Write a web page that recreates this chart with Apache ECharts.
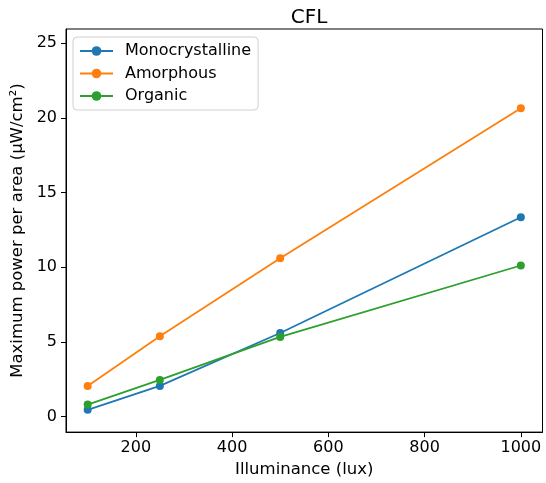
<!DOCTYPE html>
<html>
<head>
<meta charset="utf-8">
<style>
  html, body { margin: 0; padding: 0; background: #fff; }
  #chart { width: 546px; height: 483px; }
</style>
<script src="https://cdn.jsdelivr.net/npm/echarts@6/dist/echarts.min.js"></script>
</head>
<body>
<div id="chart"></div>
<script>
// Illuminance levels (lux) under a CFL lamp
const illuminance = [100, 250, 500, 1000];

// Maximum power per area (µW/cm²) for each cell type
const monocrystalline = [0.46, 2.06, 5.6, 13.35];
const amorphous = [2.06, 5.38, 10.6, 20.65];
const organic = [0.81, 2.46, 5.34, 10.12];

// Tick positions
const xTicks = [200, 400, 600, 800, 1000];
const yTicks = [0, 5, 10, 15, 20, 25];

const seriesNames = ['Monocrystalline', 'Amorphous', 'Organic'];
const seriesColors = ['#1f77b4', '#ff7f0e', '#2ca02c'];
const seriesValues = [monocrystalline, amorphous, organic];

const font = 'DejaVu Sans';

const chart = echarts.init(document.getElementById('chart'), null, { renderer: 'canvas' });

chart.setOption({
  animation: false,
  backgroundColor: '#fff',
  title: {
    text: 'CFL',
    left: 304,
    top: 3,
    textAlign: 'center',
    textStyle: { fontFamily: font, fontSize: 20, fontWeight: 'normal', color: '#000' }
  },
  legend: {
    orient: 'vertical',
    left: 73,
    top: 37,
    padding: [6, 7, 6, 6],
    itemGap: 6.5,
    itemWidth: 33,
    itemHeight: 12,
    borderColor: '#d0d0d0',
    borderWidth: 1,
    borderRadius: 4,
    backgroundColor: 'rgba(255,255,255,0.8)',
    textStyle: { fontFamily: font, fontSize: 16, color: '#000', padding: [0, 0, 0, 7] },
    data: seriesNames
  },
  grid: {
    left: 66,
    right: 3.5,
    top: 29,
    bottom: 44.5,
    show: true,
    borderColor: '#000',
    borderWidth: 1,
    containLabel: false
  },
  xAxis: {
    type: 'value',
    min: 55,
    max: 1045,
    name: 'Illuminance (lux)',
    nameLocation: 'middle',
    nameGap: 26,
    nameTextStyle: { fontFamily: font, fontSize: 16.5, color: '#000' },
    axisLine: { show: true, onZero: false, lineStyle: { color: '#000', width: 1 } },
    axisTick: { show: true, length: 5, customValues: xTicks, lineStyle: { color: '#000' } },
    axisLabel: {
      customValues: xTicks, margin: 8, fontFamily: font, fontSize: 16, color: '#000',
      formatter: (v) => String(v)
    },
    splitLine: { show: false }
  },
  yAxis: {
    type: 'value',
    min: -1.03,
    max: 25.95,
    name: 'Maximum power per area (\u03bcW/cm\u00b2)',
    nameLocation: 'middle',
    nameGap: 34,
    nameTextStyle: { fontFamily: font, fontSize: 16.5, color: '#000' },
    axisLine: { show: true, onZero: false, lineStyle: { color: '#000', width: 1 } },
    axisTick: { show: true, length: 5, customValues: yTicks, lineStyle: { color: '#000' } },
    axisLabel: {
      customValues: yTicks, margin: 9, fontFamily: font, fontSize: 16, color: '#000',
      formatter: (v) => String(v)
    },
    splitLine: { show: false }
  },
  series: seriesNames.map((name, i) => ({
    name: name,
    type: 'line',
    data: illuminance.map((x, j) => [x, seriesValues[i][j]]),
    symbol: 'circle',
    symbolSize: 8,
    showAllSymbol: true,
    color: seriesColors[i],
    lineStyle: { width: 1.8, color: seriesColors[i] },
    itemStyle: { color: seriesColors[i] },
    emphasis: { disabled: true },
    z: 2 + i
  }))
});
</script>
</body>
</html>
